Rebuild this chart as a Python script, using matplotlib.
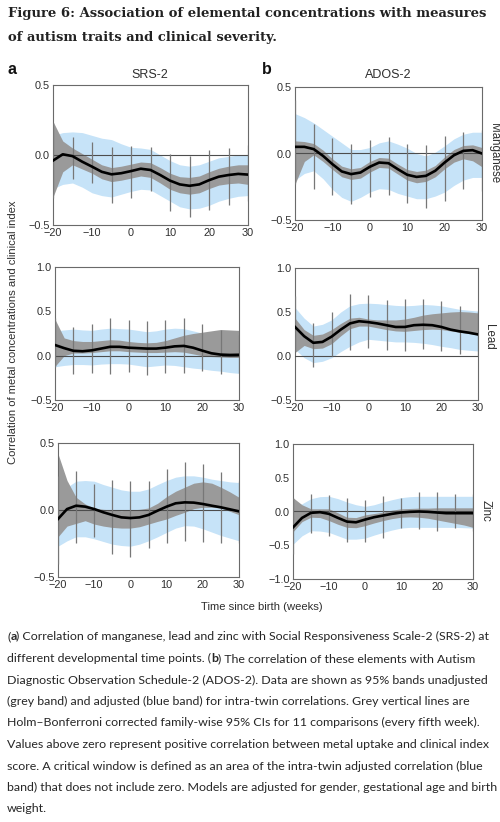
import matplotlib
matplotlib.use('Agg')
import matplotlib.pyplot as plt

# ---------------- data ----------------
weeks = [-20, -17.5, -15, -12.5, -10, -7.5, -5, -2.5, 0, 2.5, 5, 7.5, 10,
         12.5, 15, 17.5, 20, 22.5, 25, 27.5, 30]
ci_weeks = [-20, -15, -10, -5, 0, 5, 10, 15, 20, 25, 30]
x_ticks = [-20, -10, 0, 10, 20, 30]
scales = ['SRS-2', 'ADOS-2']
elements = ['Manganese', 'Lead', 'Zinc']

# SRS-2 / Manganese
srs_mn_est = [-0.04, 0.005, -0.008, -0.048, -0.083, -0.12, -0.138, -0.13, -0.115, -0.098, -0.107,
              -0.143, -0.183, -0.21, -0.22, -0.21, -0.18, -0.155, -0.143, -0.135, -0.14]
srs_mn_grey_hi = [0.24, 0.10, 0.05, 0.01, -0.03, -0.07, -0.09, -0.08, -0.065, -0.05, -0.055,
                  -0.09, -0.13, -0.155, -0.16, -0.15, -0.12, -0.095, -0.08, -0.07, -0.07]
srs_mn_grey_lo = [-0.30, -0.12, -0.07, -0.10, -0.13, -0.17, -0.19, -0.18, -0.165, -0.15, -0.16,
                  -0.20, -0.245, -0.27, -0.28, -0.27, -0.24, -0.215, -0.205, -0.20, -0.21]
srs_mn_blue_hi = [0.14, 0.16, 0.165, 0.16, 0.14, 0.12, 0.11, 0.08, 0.055, 0.05, 0.04, 0.0,
                  -0.04, -0.07, -0.08, -0.07, -0.045, -0.02, -0.01, 0.0, 0.005]
srs_mn_blue_lo = [-0.24, -0.21, -0.20, -0.23, -0.27, -0.29, -0.30, -0.28, -0.26, -0.245, -0.25,
                  -0.29, -0.33, -0.37, -0.385, -0.38, -0.36, -0.33, -0.31, -0.295, -0.29]
srs_mn_ci_hi = [0.23, 0.13, 0.09, 0.06, 0.065, 0.06, 0.01, -0.01, 0.035, 0.05, 0.07]
srs_mn_ci_lo = [-0.31, -0.17, -0.20, -0.34, -0.31, -0.26, -0.40, -0.44, -0.39, -0.36, -0.33]

# ADOS-2 / Manganese
ados_mn_est = [0.05, 0.05, 0.033, -0.018, -0.08, -0.135, -0.155, -0.143, -0.10, -0.068, -0.073,
               -0.118, -0.16, -0.176, -0.168, -0.13, -0.068, -0.013, 0.02, 0.025, 0.0]
ados_mn_grey_hi = [0.095, 0.09, 0.075, 0.025, -0.04, -0.095, -0.115, -0.105, -0.06, -0.03, -0.035,
                   -0.08, -0.12, -0.135, -0.125, -0.09, -0.025, 0.03, 0.06, 0.065, 0.045]
ados_mn_grey_lo = [-0.23, -0.06, -0.01, -0.06, -0.12, -0.175, -0.195, -0.185, -0.14, -0.105, -0.11,
                   -0.155, -0.20, -0.22, -0.21, -0.175, -0.115, -0.065, -0.04, -0.055, -0.10]
ados_mn_blue_hi = [0.30, 0.27, 0.23, 0.18, 0.13, 0.08, 0.03, 0.03, 0.045, 0.08, 0.095, 0.07,
                   0.04, 0.0, -0.018, 0.01, 0.058, 0.11, 0.145, 0.16, 0.16]
ados_mn_blue_lo = [-0.20, -0.15, -0.13, -0.19, -0.27, -0.33, -0.36, -0.33, -0.29, -0.265, -0.27,
                   -0.30, -0.32, -0.34, -0.34, -0.32, -0.29, -0.24, -0.20, -0.18, -0.18]
ados_mn_ci_hi = [0.40, 0.22, 0.115, 0.075, 0.10, 0.125, 0.07, 0.063, 0.13, 0.165, 0.18]
ados_mn_ci_lo = [-0.23, -0.27, -0.31, -0.38, -0.33, -0.31, -0.37, -0.41, -0.36, -0.27, -0.28]

# SRS-2 / Lead
srs_pb_est = [0.12, 0.085, 0.055, 0.05, 0.06, 0.08, 0.10, 0.10, 0.09, 0.085, 0.08, 0.08, 0.09,
              0.105, 0.11, 0.09, 0.057, 0.027, 0.012, 0.008, 0.01]
srs_pb_grey_hi = [0.41, 0.20, 0.17, 0.16, 0.16, 0.17, 0.18, 0.175, 0.16, 0.15, 0.145, 0.15, 0.17,
                  0.20, 0.23, 0.25, 0.265, 0.28, 0.295, 0.29, 0.285]
srs_pb_grey_lo = [-0.12, 0.0, 0.03, 0.03, 0.035, 0.045, 0.055, 0.055, 0.045, 0.04, 0.035, 0.035,
                  0.04, 0.045, 0.04, 0.02, 0.0, -0.01, -0.015, -0.02, -0.02]
srs_pb_blue_hi = [0.28, 0.29, 0.30, 0.29, 0.285, 0.30, 0.31, 0.305, 0.30, 0.285, 0.27, 0.28, 0.30,
                  0.31, 0.305, 0.28, 0.255, 0.235, 0.215, 0.20, 0.19]
srs_pb_blue_lo = [-0.125, -0.11, -0.10, -0.10, -0.105, -0.095, -0.09, -0.09, -0.095, -0.11, -0.125,
                  -0.115, -0.105, -0.11, -0.125, -0.14, -0.15, -0.165, -0.175, -0.19, -0.20]
srs_pb_ci_hi = [0.42, 0.32, 0.36, 0.43, 0.40, 0.39, 0.40, 0.42, 0.36, 0.29, 0.23]
srs_pb_ci_lo = [-0.13, -0.21, -0.19, -0.21, -0.18, -0.22, -0.19, -0.19, -0.175, -0.21, -0.20]

# ADOS-2 / Lead
ados_pb_est = [0.33, 0.225, 0.15, 0.16, 0.22, 0.30, 0.37, 0.395, 0.385, 0.37, 0.35, 0.33, 0.33,
               0.35, 0.355, 0.35, 0.33, 0.30, 0.28, 0.265, 0.245]
ados_pb_grey_hi = [0.43, 0.30, 0.235, 0.25, 0.30, 0.37, 0.43, 0.44, 0.42, 0.41, 0.41, 0.41, 0.42,
                   0.44, 0.465, 0.48, 0.49, 0.50, 0.505, 0.50, 0.49]
ados_pb_grey_lo = [0.04, 0.12, 0.083, 0.09, 0.14, 0.23, 0.31, 0.34, 0.34, 0.32, 0.30, 0.285, 0.28,
                   0.29, 0.30, 0.305, 0.30, 0.285, 0.27, 0.255, 0.24]
ados_pb_blue_hi = [0.55, 0.43, 0.34, 0.36, 0.41, 0.50, 0.57, 0.595, 0.60, 0.595, 0.585, 0.575,
                   0.57, 0.575, 0.585, 0.58, 0.57, 0.55, 0.53, 0.52, 0.51]
ados_pb_blue_lo = [0.075, -0.02, -0.075, -0.06, -0.02, 0.05, 0.11, 0.16, 0.19, 0.18, 0.17, 0.16,
                   0.16, 0.155, 0.145, 0.13, 0.11, 0.095, 0.075, 0.065, 0.057]
ados_pb_ci_hi = [0.68, 0.38, 0.50, 0.70, 0.69, 0.64, 0.65, 0.65, 0.62, 0.57, 0.51]
ados_pb_ci_lo = [0.057, -0.13, 0.0, 0.065, 0.095, 0.07, 0.057, 0.075, 0.057, 0.02, 0.0]

# SRS-2 / Zinc
srs_zn_est = [-0.067, 0.007, 0.032, 0.025, 0.007, -0.017, -0.037, -0.055, -0.06, -0.055, -0.037,
              -0.005, 0.025, 0.05, 0.057, 0.055, 0.045, 0.032, 0.02, 0.005, -0.01]
srs_zn_grey_hi = [0.42, 0.22, 0.095, 0.045, 0.015, 0.005, 0.0, -0.005, 0.0, 0.005, 0.015, 0.05,
                  0.10, 0.14, 0.17, 0.20, 0.21, 0.20, 0.17, 0.135, 0.095]
srs_zn_grey_lo = [-0.20, -0.12, -0.10, -0.08, -0.105, -0.12, -0.13, -0.135, -0.135, -0.125, -0.105,
                  -0.085, -0.067, -0.04, -0.017, 0.01, 0.02, 0.02, 0.015, -0.01, -0.035]
srs_zn_blue_hi = [0.07, 0.17, 0.215, 0.22, 0.215, 0.19, 0.17, 0.15, 0.14, 0.14, 0.157, 0.19,
                  0.22, 0.245, 0.255, 0.255, 0.245, 0.23, 0.22, 0.21, 0.205]
srs_zn_blue_lo = [-0.27, -0.23, -0.20, -0.20, -0.215, -0.235, -0.255, -0.265, -0.27, -0.255, -0.23,
                  -0.20, -0.167, -0.135, -0.117, -0.12, -0.14, -0.165, -0.19, -0.21, -0.23]
srs_zn_ci_hi = [0.25, 0.29, 0.195, 0.225, 0.22, 0.215, 0.305, 0.355, 0.345, 0.28, 0.22]
srs_zn_ci_lo = [-0.40, -0.25, -0.20, -0.33, -0.35, -0.28, -0.25, -0.235, -0.24, -0.25, -0.25]

# ADOS-2 / Zinc
ados_zn_est = [-0.235, -0.095, -0.02, -0.01, -0.035, -0.095, -0.15, -0.16, -0.12, -0.085, -0.06,
               -0.035, -0.015, -0.005, 0.0, -0.005, -0.015, -0.025, -0.025, -0.025, -0.025]
ados_zn_grey_hi = [0.205, 0.10, 0.04, 0.04, 0.04, -0.02, -0.085, -0.09, -0.05, -0.03, -0.01, 0.02,
                   0.04, 0.045, 0.05, 0.05, 0.055, 0.055, 0.055, 0.055, 0.055]
ados_zn_grey_lo = [-0.30, -0.15, -0.085, -0.09, -0.135, -0.19, -0.235, -0.24, -0.21, -0.17, -0.135,
                   -0.105, -0.085, -0.08, -0.085, -0.10, -0.125, -0.15, -0.175, -0.20, -0.235]
ados_zn_blue_hi = [0.065, 0.115, 0.19, 0.22, 0.225, 0.19, 0.14, 0.10, 0.075, 0.10, 0.14, 0.175,
                   0.205, 0.22, 0.225, 0.225, 0.225, 0.225, 0.225, 0.225, 0.225]
ados_zn_blue_lo = [-0.485, -0.36, -0.285, -0.29, -0.31, -0.36, -0.41, -0.41, -0.395, -0.35, -0.31,
                   -0.275, -0.245, -0.235, -0.235, -0.235, -0.235, -0.235, -0.235, -0.24, -0.245]
ados_zn_ci_hi = [0.205, 0.255, 0.24, 0.205, 0.165, 0.225, 0.20, 0.29, 0.29, 0.255, 0.265]
ados_zn_ci_lo = [-0.635, -0.325, -0.36, -0.445, -0.445, -0.395, -0.245, -0.26, -0.285, -0.245, -0.285]

y_ticks_half = [-0.5, 0.0, 0.5]
y_ticks_lead = [-0.5, 0.0, 0.5, 1.0]
y_ticks_full = [-1.0, -0.5, 0.0, 0.5, 1.0]

title_lines = ["Figure 6: Association of elemental concentrations with measures",
               "of autism traits and clinical severity."]
caption_lines = [
    [("(", False), ("a", True), (") Correlation of manganese, lead and zinc with Social Responsiveness Scale-2 (SRS-2) at", False)],
    [("different developmental time points. (", False), ("b", True), (") The correlation of these elements with Autism", False)],
    [("Diagnostic Observation Schedule-2 (ADOS-2). Data are shown as 95% bands unadjusted", False)],
    [("(grey band) and adjusted (blue band) for intra-twin correlations. Grey vertical lines are", False)],
    [("Holm\u2013Bonferroni corrected family-wise 95% CIs for 11 comparisons (every fifth week).", False)],
    [("Values above zero represent positive correlation between metal uptake and clinical index", False)],
    [("score. A critical window is defined as an area of the intra-twin adjusted correlation (blue", False)],
    [("band) that does not include zero. Models are adjusted for gender, gestational age and birth", False)],
    [("weight.", False)],
]

# ---------------- figure ----------------
W, H = 500, 822
fig = plt.figure(figsize=(W / 100, H / 100), dpi=100)
fig.patch.set_facecolor('white')
renderer = fig.canvas.get_renderer()

SANS = ['Liberation Sans', 'DejaVu Sans']
BLUE = '#c6e3f8'
GREY = '#9a9a9a'
CI_COL = '#777777'
TXT = '#2e2e2e'


def fy(px):
    return 1 - px / H


def add_ax(x0, y0, x1, y1):
    return fig.add_axes([x0 / W, 1 - y1 / H, (x1 - x0) / W, (y1 - y0) / H])


def fmt(v):
    s = '%.1f' % v
    return s.replace('-', '\u2212')


panels = [
    ((53, 85, 248, 225), srs_mn_est, srs_mn_grey_hi, srs_mn_grey_lo, srs_mn_blue_hi, srs_mn_blue_lo,
     srs_mn_ci_hi, srs_mn_ci_lo, (-0.5, 0.5), y_ticks_half),
    ((295, 87, 482, 220), ados_mn_est, ados_mn_grey_hi, ados_mn_grey_lo, ados_mn_blue_hi, ados_mn_blue_lo,
     ados_mn_ci_hi, ados_mn_ci_lo, (-0.5, 0.5), y_ticks_half),
    ((55, 267, 239, 400), srs_pb_est, srs_pb_grey_hi, srs_pb_grey_lo, srs_pb_blue_hi, srs_pb_blue_lo,
     srs_pb_ci_hi, srs_pb_ci_lo, (-0.5, 1.0), y_ticks_lead),
    ((295, 268, 478, 400), ados_pb_est, ados_pb_grey_hi, ados_pb_grey_lo, ados_pb_blue_hi, ados_pb_blue_lo,
     ados_pb_ci_hi, ados_pb_ci_lo, (-0.5, 1.0), y_ticks_lead),
    ((58, 443, 239, 577), srs_zn_est, srs_zn_grey_hi, srs_zn_grey_lo, srs_zn_blue_hi, srs_zn_blue_lo,
     srs_zn_ci_hi, srs_zn_ci_lo, (-0.5, 0.5), y_ticks_half),
    ((293, 444, 473, 579), ados_zn_est, ados_zn_grey_hi, ados_zn_grey_lo, ados_zn_blue_hi, ados_zn_blue_lo,
     ados_zn_ci_hi, ados_zn_ci_lo, (-1.0, 1.0), y_ticks_full),
]

for box, est, ghi, glo, bhi, blo, chi, clo, ylim, yt in panels:
    ax = add_ax(*box)
    ax.fill_between(weeks, blo, bhi, color=BLUE, lw=0, zorder=1)
    ax.fill_between(weeks, glo, ghi, color=GREY, lw=0, zorder=2)
    ax.axhline(0, color='#4d4d4d', lw=0.8, zorder=3)
    ax.vlines(ci_weeks, clo, chi, color=CI_COL, lw=0.9, zorder=4)
    ax.plot(weeks, est, color='black', lw=1.9, zorder=5, solid_joinstyle='round')
    ax.set_xlim(-20, 30)
    ax.set_ylim(*ylim)
    ax.set_xticks(x_ticks)
    ax.set_xticklabels([fmt(v).replace('.0', '') for v in x_ticks])
    ax.set_yticks(yt)
    ax.set_yticklabels([fmt(v) for v in yt])
    ax.tick_params(length=0, labelsize=7.8, labelcolor=TXT, pad=2.5)
    for lab in ax.get_xticklabels() + ax.get_yticklabels():
        lab.set_family(SANS)
    for sp in ax.spines.values():
        sp.set_color('#6a6a6a')
        sp.set_linewidth(0.8)

# column headers and panel letters
fig.text(150 / W, fy(78), scales[0], ha='center', va='baseline', fontsize=9.0, color=TXT, family=SANS)
fig.text(388 / W, fy(78), scales[1], ha='center', va='baseline', fontsize=9.0, color=TXT, family=SANS)
fig.text(7 / W, fy(74), 'a', ha='left', va='baseline', fontsize=11.5, fontweight='bold', color='#111', family=SANS)
fig.text(262 / W, fy(74), 'b', ha='left', va='baseline', fontsize=11.5, fontweight='bold', color='#111', family=SANS)

# row labels
for name, (xp, yp) in zip(elements, [(494, 153), (489, 337), (486, 511)]):
    fig.text(xp / W, fy(yp), name, rotation=-90, ha='center', va='center', fontsize=8.3,
             color=TXT, family=SANS)

# axis labels
fig.text(13 / W, fy(332), 'Correlation of metal concentrations and clinical index', rotation=90,
         ha='center', va='center', fontsize=8.1, color=TXT, family=SANS)
fig.text(262 / W, fy(607), 'Time since birth (weeks)', ha='center', va='center', fontsize=8.1,
         color=TXT, family=SANS)


# ---------------- title ----------------
def fit_size(text, target_px, family, weight='normal', ref=10.0):
    t = fig.text(0, 0, text, fontsize=ref, family=family, fontweight=weight)
    w = t.get_window_extent(renderer).width
    t.remove()
    return ref * target_px / w


TFONT = ['DejaVu Serif']
tsize = fit_size(title_lines[0], 480, TFONT, 'bold')
for line, base in zip(title_lines, [17.5, 41]):
    fig.text(8 / W, fy(base), line, ha='left', va='baseline', fontsize=tsize, fontweight='bold',
             family=TFONT, color='#222222')

# ---------------- caption ----------------
CFONT = ['Lato', 'DejaVu Sans']
full1 = ''.join(s for s, _ in caption_lines[0])
csize = fit_size(full1, 482, CFONT)
baselines = [640.5, 662, 683.5, 705, 726.5, 748, 769.5, 791, 812]
for segs, base in zip(caption_lines, baselines):
    xpx = 7.0
    for txt, bold in segs:
        t = fig.text(xpx / W, fy(base), txt, ha='left', va='baseline', fontsize=csize,
                     fontweight='bold' if bold else 'normal', family=CFONT, color='#262626')
        bb = t.get_window_extent(renderer)
        xpx = bb.x1

fig.savefig('out.png', dpi=100, facecolor='white')
